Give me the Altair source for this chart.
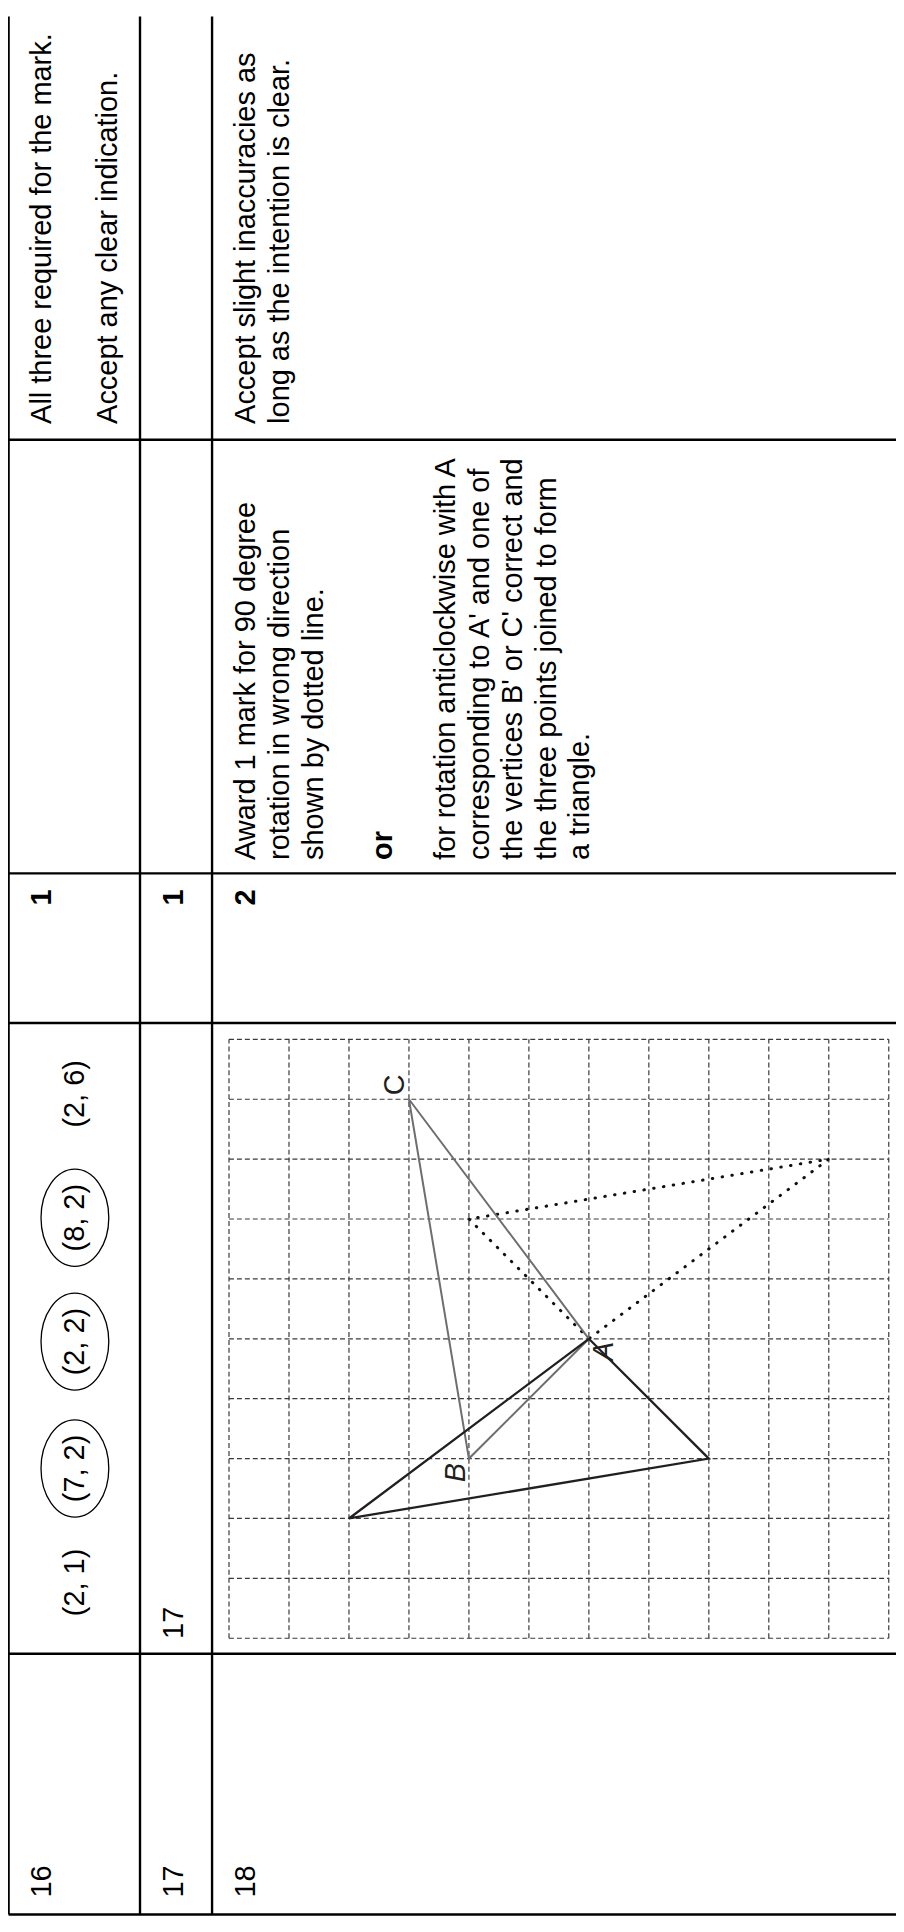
import altair as alt
import pandas as pd

# ---------------- content ----------------
QUESTION_NUMBERS = ["16", "17", "18"]
MARKS = ["1", "1", "2"]

ANSWER_16 = ["(2, 1)", "(7, 2)", "(2, 2)", "(8, 2)", "(2, 6)"]
ANSWER_16_CIRCLED = [False, True, True, True, False]
ANSWER_17 = "17"

GUIDANCE_16_EXTRA = ["All three required for the mark.", "Accept any clear indication."]
GUIDANCE_18_EXTRA = ["Accept slight inaccuracies as", "long as the intention is clear."]
GUIDANCE_18 = [
    "Award 1 mark for 90 degree",
    "rotation in wrong direction",
    "shown by dotted line.",
    "or",
    "for rotation anticlockwise with A",
    "corresponding to A' and one of",
    "the vertices B' or C' correct and",
    "the three points joined to form",
    "a triangle.",
]
GUIDANCE_18_BOLD = [False, False, False, True, False, False, False, False, False]

# Q18 diagram, in grid squares (u across the page, v up the page)
GRID_U = list(range(0, 12))
GRID_V = list(range(0, 11))
TRIANGLE_ABC_U = [6, 4, 3]        # A, B, C
TRIANGLE_ABC_V = [5, 3, 9]
ANTICLOCKWISE_U = [6, 8, 2]       # correct image, 90 degrees anticlockwise about A
ANTICLOCKWISE_V = [5, 3, 2]
CLOCKWISE_U = [6, 4, 10]          # wrong direction, dotted
CLOCKWISE_V = [5, 7, 8]
VERTEX_LABELS = ["A", "B", "C"]

# ---------------- layout (page pixels) ----------------
W, H, OFF = 896, 1916, 8
FONT = "Liberation Sans"
FS = 29.2
LINE = 34.55

ROW_EDGE = [8.6, 141.2, 213.9]                  # left edges of rows 16, 17, 18
BAND_EDGE = [435, 872.5, 1023.5, 1660, 1923]    # column boundaries (top to bottom)
BASE_INSET = 43
Y_START_Q, Y_START_ANS, Y_START_MARK = 1906, 1645, 905
Y_START_GUIDE, Y_START_EXTRA = 859, 419
GUIDE18_SLOTS = [0, 1, 2, 4, 5.85, 6.83, 7.81, 8.79, 9.77]
EXTRA16_SLOTS = [0, 1.92]
EXTRA18_SLOTS = [0, 1]
ANS16_X = 75.5
ANS16_Y = [1588, 1473, 1345, 1220, 1095]
ELLIPSE_RX, ELLIPSE_RY = 34.2, 49.0
GRID_X_PX = [231, 896.7]
GRID_Y_PX = [1644.3, 1040]
LABEL_U = [6.41, 3.933, 2.916]
LABEL_V = [4.63, 2.603, 9.065]
ITALIC_LABELS = ["A", "B"]

# ---------------- scales ----------------
px_x = alt.Scale(domain=[OFF, OFF + W], range=[0, W])
px_y = alt.Scale(domain=[OFF, OFF + H], range=[0, H])
g_x = alt.Scale(domain=[0, len(GRID_U) - 1], range=[GRID_X_PX[0] - OFF, GRID_X_PX[1] - OFF])
g_y = alt.Scale(domain=[0, len(GRID_V) - 1], range=[GRID_Y_PX[0] - OFF, GRID_Y_PX[1] - OFF])


def PX(f):
    return alt.X(f"{f}:Q", scale=px_x, axis=None)


def PY(f):
    return alt.Y(f"{f}:Q", scale=px_y, axis=None)


def GX(f):
    return alt.X(f"{f}:Q", scale=g_x, axis=None)


def GY(f):
    return alt.Y(f"{f}:Q", scale=g_y, axis=None)


def base_x(row, slot=0.0):
    return ROW_EDGE[row] + BASE_INSET + slot * LINE


# ---------------- table ----------------
v_lines = pd.DataFrame({"x": ROW_EDGE, "y0": OFF, "y1": BAND_EDGE[-1]})
h_lines = pd.DataFrame({"y": BAND_EDGE, "x0": ROW_EDGE[0], "x1": OFF + W})

rule_v = alt.Chart(v_lines).mark_rule(color="black", strokeWidth=2.4).encode(
    x=PX("x"), y=PY("y0"), y2="y1:Q")
rule_h = alt.Chart(h_lines).mark_rule(color="black", strokeWidth=2.4).encode(
    y=PY("y"), x=PX("x0"), x2="x1:Q")

rows = []
for i, q in enumerate(QUESTION_NUMBERS):
    rows.append(dict(x=base_x(i), y=Y_START_Q, t=q, bold=False))
rows.append(dict(x=base_x(1), y=Y_START_ANS, t=ANSWER_17, bold=False))
for i, m in enumerate(MARKS):
    rows.append(dict(x=base_x(i), y=Y_START_MARK, t=m, bold=True))
for s, t in zip(EXTRA16_SLOTS, GUIDANCE_16_EXTRA):
    rows.append(dict(x=base_x(0, s), y=Y_START_EXTRA, t=t, bold=False))
for s, t in zip(EXTRA18_SLOTS, GUIDANCE_18_EXTRA):
    rows.append(dict(x=base_x(2, s), y=Y_START_EXTRA, t=t, bold=False))
for s, t, b in zip(GUIDE18_SLOTS, GUIDANCE_18, GUIDANCE_18_BOLD):
    rows.append(dict(x=base_x(2, s), y=Y_START_GUIDE, t=t, bold=b))
texts = pd.DataFrame(rows)

txt_style = dict(angle=270, align="left", baseline="alphabetic", font=FONT,
                 fontSize=FS, color="black")
txt_reg = alt.Chart(texts[~texts["bold"]]).mark_text(**txt_style).encode(
    x=PX("x"), y=PY("y"), text="t:N")
txt_bold = alt.Chart(texts[texts["bold"]]).mark_text(fontWeight="bold", **txt_style).encode(
    x=PX("x"), y=PY("y"), text="t:N")

ans16 = pd.DataFrame({"x": ANS16_X, "y": ANS16_Y, "t": ANSWER_16, "circled": ANSWER_16_CIRCLED})
ans_txt = alt.Chart(ans16).mark_text(angle=270, align="center", baseline="middle",
                                     font=FONT, fontSize=FS, color="black").encode(
    x=PX("x"), y=PY("y"), text="t:N")

a = ELLIPSE_RX / ELLIPSE_RY
k = 0.5523
ELLIPSE_PATH = (
    f"M{a:.4f},0 C{a:.4f},{k:.4f} {k*a:.4f},1 0,1 "
    f"C{-k*a:.4f},1 {-a:.4f},{k:.4f} {-a:.4f},0 "
    f"C{-a:.4f},{-k:.4f} {-k*a:.4f},-1 0,-1 "
    f"C{k*a:.4f},-1 {a:.4f},{-k:.4f} {a:.4f},0 Z"
)
ellipses = alt.Chart(ans16[ans16["circled"]]).mark_point(
    shape=ELLIPSE_PATH, size=(2 * ELLIPSE_RY) ** 2, filled=False,
    color="black", strokeWidth=1.3, opacity=1).encode(x=PX("x"), y=PY("y"))

table_layer = alt.layer(rule_v, rule_h, txt_reg, txt_bold, ans_txt, ellipses)

# ---------------- Q18 grid diagram ----------------
gv = pd.DataFrame({"u": GRID_U, "v0": GRID_V[0], "v1": GRID_V[-1]})
gh = pd.DataFrame({"v": GRID_V, "u0": GRID_U[0], "u1": GRID_U[-1]})
grid_style = dict(color="#3a3a3a", strokeWidth=1.2, strokeDash=[5, 3])
grid_v = alt.Chart(gv).mark_rule(**grid_style).encode(x=GX("u"), y=GY("v0"), y2="v1:Q")
grid_h = alt.Chart(gh).mark_rule(**grid_style).encode(y=GY("v"), x=GX("u0"), x2="u1:Q")


def closed(us, vs):
    return pd.DataFrame({"u": us + us[:1], "v": vs + vs[:1], "i": list(range(len(us) + 1))})


tri_dot = alt.Chart(closed(CLOCKWISE_U, CLOCKWISE_V)).mark_line(
    color="#111111", strokeWidth=3, strokeDash=[0.5, 9.5], strokeCap="round").encode(
    x=GX("u"), y=GY("v"), order="i:O")
tri_abc = alt.Chart(closed(TRIANGLE_ABC_U, TRIANGLE_ABC_V)).mark_line(
    color="#6d6e70", strokeWidth=2.0).encode(x=GX("u"), y=GY("v"), order="i:O")
tri_anti = alt.Chart(closed(ANTICLOCKWISE_U, ANTICLOCKWISE_V)).mark_line(
    color="#231f20", strokeWidth=2.3).encode(x=GX("u"), y=GY("v"), order="i:O")

labels = pd.DataFrame({"u": LABEL_U, "v": LABEL_V, "t": VERTEX_LABELS})
labels["italic"] = labels["t"].isin(ITALIC_LABELS)
lab_style = dict(angle=270, align="left", baseline="alphabetic", font=FONT,
                 fontSize=FS, color="#231f20")
lab_it = alt.Chart(labels[labels["italic"]]).mark_text(fontStyle="italic", **lab_style).encode(
    x=GX("u"), y=GY("v"), text="t:N")
lab_up = alt.Chart(labels[~labels["italic"]]).mark_text(**lab_style).encode(
    x=GX("u"), y=GY("v"), text="t:N")

grid_layer = alt.layer(grid_v, grid_h, tri_dot, tri_abc, tri_anti, lab_it, lab_up)

chart = (
    alt.layer(table_layer, grid_layer)
    .resolve_scale(x="independent", y="independent")
    .properties(width=W, height=H, padding=0,
                autosize=alt.AutoSizeParams(type="none"), background="white")
    .configure_view(stroke=None)
)

chart.save("out.html", embed_options={"renderer": "svg", "actions": False})
